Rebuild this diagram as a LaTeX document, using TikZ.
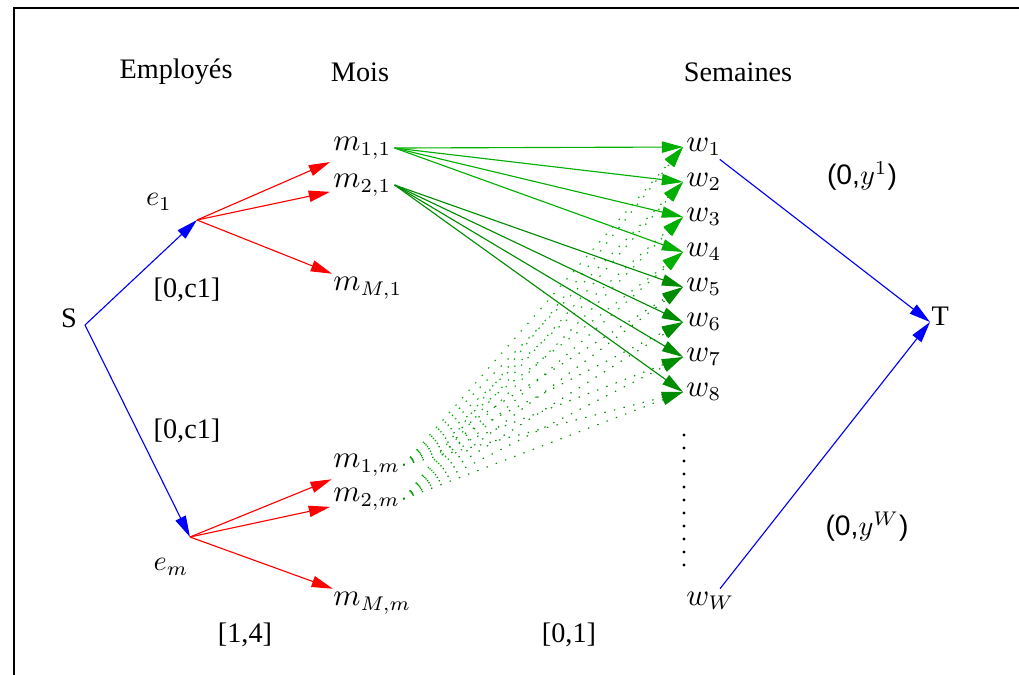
\documentclass[tikz,border=0pt]{standalone}
\usepackage{fontspec}
\setmainfont{Liberation Serif}
\setsansfont{Liberation Sans}
\usetikzlibrary{arrows.meta}
\definecolor{gA}{RGB}{0,175,0}
\definecolor{gB}{RGB}{0,140,0}
\begin{document}
\begin{tikzpicture}[x=0.354pt,y=-0.354pt,
  txt/.style={inner sep=0pt, font=\fontsize{10}{12}\selectfont},
  mn/.style={inner sep=1pt, anchor=west, font=\fontsize{10.5}{12}\selectfont},
  arr/.style={-{Triangle[length=7.5pt,width=4pt]}, line width=0.4pt},
  bluearr/.style={arr, blue},
  redarr/.style={arr, red},
  greenA/.style={arr, gA},
  greenB/.style={arr, gB},
  dotarr/.style={arr, dash pattern=on 0.5pt off 3pt},
  frame/.style={line width=0.9pt}]
\useasboundingbox (0,0) rectangle (1019,674);
\draw[frame] (14,700) -- (14,8) -- (1040,8);

% headers
\node[txt] (emp) at (176,72) {Employés};
\node[txt] (mois) at (360,72) {Mois};
\node[txt] (sem) at (738,72) {Semaines};

% source and sink
\node[txt] (S) at (69,318) {S};
\coordinate (Sp) at (85,325);
\node[txt, anchor=west] (T) at (931,316) {T};
\coordinate (Tp) at (930,322);

% employees
\coordinate (e1) at (197,220);
\coordinate (em) at (190,537);
\node[txt] (e1l) at (159,202) {$e_1$};
\node[txt] (eml) at (171,567) {$e_m$};

% month nodes
\node[mn] (m11) at (330,148) {$m_{1,1}$};
\node[mn] (m21) at (330,185) {$m_{2,1}$};
\node[mn] (mM1) at (330,288) {$m_{M,1}$};
\node[mn] (m1m) at (330,465) {$m_{1,m}$};
\node[mn] (m2m) at (330,499) {$m_{2,m}$};
\node[mn] (mMm) at (330,603) {$m_{M,m}$};

% week nodes
\foreach \i/\y in {1/147,2/182,3/217,4/252,5/287,6/322,7/357,8/392}{
  \node[mn] (w\i) at (683,\y) {$w_{\i}$};
}
\node[mn] (wW) at (683,601) {$w_W$};
\foreach \k in {0,...,10}{
  \fill (684,{435+13*\k}) circle (0.55pt);
}

% labels
\node[txt] (c1a) at (187,290) {[0,c1]};
\node[txt] (c1b) at (187,431) {[0,c1]};
\node[txt] (l14) at (245,635) {[1,4]};
\node[txt] (l01) at (569,635) {[0,1]};
\node[txt] (y1) at (862,176) {\textsf{(0,}$y^1$\textsf{)}};
\node[txt] (yW) at (867,527) {\textsf{(0,}$y^W$\textsf{)}};

% blue arcs
\draw[bluearr] (Sp) -- (e1);
\draw[bluearr] (Sp) -- (em);
\draw[bluearr] (w1) -- (Tp);
\draw[bluearr] (wW) -- (Tp);

% red arcs
\foreach \t in {m11,m21,mM1}{ \draw[redarr] (e1) -- (\t); }
\foreach \t in {m1m,m2m,mMm}{ \draw[redarr] (em) -- (\t); }

% dotted green arcs
\foreach \i in {1,2,3,4}{
  \draw[dotarr, gA] (m1m.east) -- (w\i.west);
  \draw[dotarr, gA] (m2m.east) -- (w\i.west);
}
\foreach \i in {5,6,7,8}{
  \draw[dotarr, gB] (m1m.east) -- (w\i.west);
  \draw[dotarr, gB] (m2m.east) -- (w\i.west);
}
% solid green arcs
\foreach \i in {1,2,3,4}{ \draw[greenA] (m11.east) -- (w\i.west); }
\foreach \i in {5,6,7,8}{ \draw[greenB] (m21.east) -- (w\i.west); }
\end{tikzpicture}
\end{document}
